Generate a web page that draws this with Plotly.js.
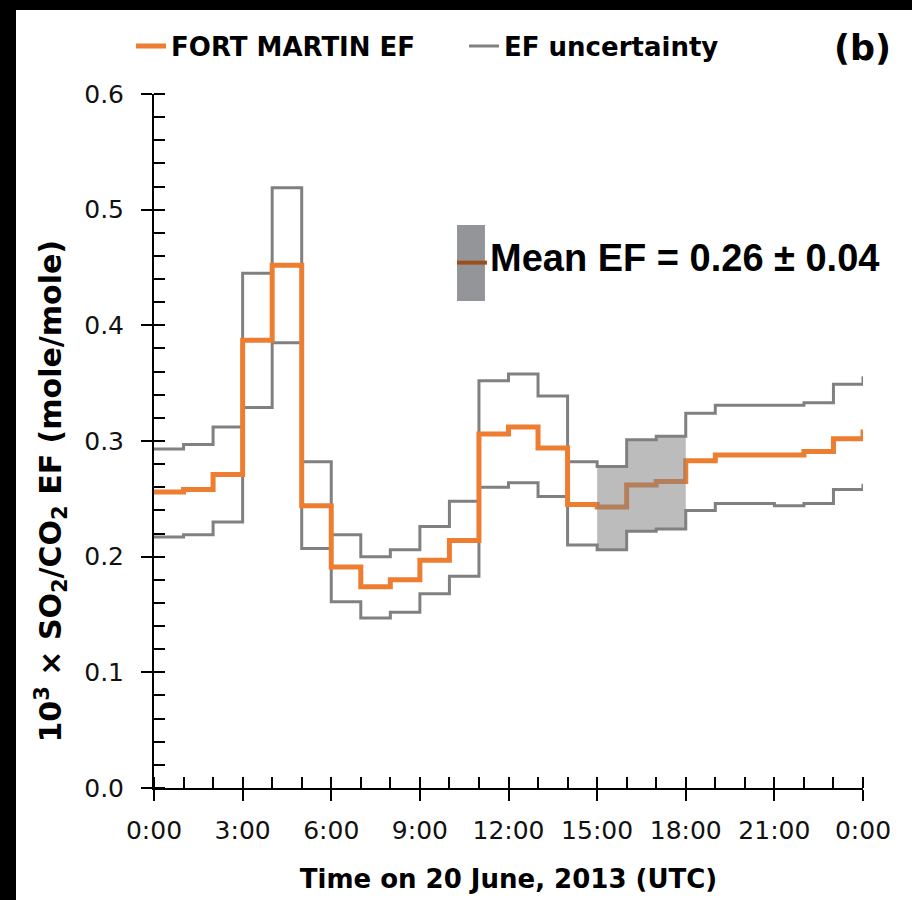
<!DOCTYPE html>
<html>
<head>
<meta charset="utf-8">
<script src="https://cdn.plot.ly/plotly-3.0.1.min.js"></script>
<style>
  html, body { margin: 0; padding: 0; background: #000; width: 912px; height: 900px; overflow: hidden; }
  #chart { position: absolute; left: 16px; top: 10px; width: 896px; height: 890px; background: #fff; }
</style>
</head>
<body>
<div id="chart"></div>
<script>
// Hour of day (UTC), 20 June 2013; last point = 24:00
const hours = [0,1,2,3,4,5,6,7,8,9,10,11,12,13,14,15,16,17,18,19,20,21,22,23,24];
const tickHours = [0,3,6,9,12,15,18,21,24];
const tickLabels = ["0:00","3:00","6:00","9:00","12:00","15:00","18:00","21:00","0:00"];

// FORT MARTIN SO2/CO2 emission factor (x 10^3, mole/mole)
const efValues = [0.256,0.258,0.271,0.387,0.452,0.244,0.191,0.174,0.180,0.197,0.214,0.306,
                  0.312,0.294,0.245,0.243,0.262,0.265,0.283,0.288,0.288,0.288,0.291,0.302,0.310];
// Uncertainty envelope
const efUpper = [0.293,0.297,0.312,0.445,0.519,0.282,0.219,0.200,0.206,0.226,0.248,0.352,
                 0.358,0.339,0.282,0.278,0.301,0.304,0.324,0.331,0.331,0.331,0.333,0.349,0.356];
const efLower = [0.217,0.219,0.230,0.329,0.385,0.207,0.161,0.147,0.152,0.168,0.183,0.260,
                 0.264,0.252,0.210,0.206,0.222,0.224,0.240,0.246,0.246,0.244,0.246,0.258,0.263];

// Shaded period used for the mean EF
const shadeStart = 15, shadeEnd = 18;
const meanEF = 0.26, meanEFUnc = 0.04;

const ORANGE = "#ED7D31", GRAY = "#808080";

const shadeX = hours.slice(shadeStart, shadeEnd + 1);
const shadeLo = efLower.slice(shadeStart, shadeEnd).concat([efLower[shadeEnd - 1]]);
const shadeHi = efUpper.slice(shadeStart, shadeEnd).concat([efUpper[shadeEnd - 1]]);

const traces = [
  { x: hours, y: efUpper, type: "scatter", mode: "lines", line: {shape: "hv", color: GRAY, width: 3},
    name: "EF uncertainty", legendrank: 2, showlegend: true, hoverinfo: "skip" },
  { x: hours, y: efLower, type: "scatter", mode: "lines", line: {shape: "hv", color: GRAY, width: 3},
    name: "EF uncertainty (lower)", showlegend: false, hoverinfo: "skip" },
  { x: hours, y: efValues, type: "scatter", mode: "lines", line: {shape: "hv", color: ORANGE, width: 5},
    name: "FORT MARTIN EF", legendrank: 1, showlegend: true },
  { x: shadeX, y: shadeLo, type: "scatter", mode: "lines", line: {shape: "hv", color: "rgba(0,0,0,0)", width: 0},
    showlegend: false, hoverinfo: "skip" },
  { x: shadeX, y: shadeHi, type: "scatter", mode: "lines", line: {shape: "hv", color: "rgba(0,0,0,0)", width: 0},
    fill: "tonexty", fillcolor: "rgba(128,128,128,0.53)", showlegend: false, hoverinfo: "skip" }
];

const tickFont = {family: "DejaVu Sans", size: 25, color: "#111"};
const boldFont = (s) => ({family: "DejaVu Sans", size: s, color: "#000", weight: "bold"});

const layout = {
  width: 896, height: 890,
  margin: {l: 138, r: 49, t: 84, b: 112},
  paper_bgcolor: "#fff", plot_bgcolor: "#fff",
  showlegend: true,
  legend: {orientation: "h", x: -0.0324, xanchor: "left", y: 1.069, yanchor: "middle",
           font: boldFont(26), bgcolor: "rgba(0,0,0,0)", itemwidth: 30, traceorder: "normal",
           entrywidth: 288, entrywidthmode: "pixels"},
  xaxis: {range: [0, 24], showgrid: false, zeroline: false, showline: true, linecolor: "#000", linewidth: 2,
          ticks: "outside", ticklen: 11, tickwidth: 2, tickcolor: "#000",
          tickvals: tickHours, ticktext: tickLabels, tickfont: tickFont, ticklabelstandoff: 8,
          minor: {ticks: "inside", dtick: 1, tick0: 0, ticklen: 11, tickwidth: 2, tickcolor: "#000", showgrid: false},
          title: {text: "Time on 20 June, 2013 (UTC)", font: boldFont(26), standoff: 26}},
  xaxis2: {overlaying: "x", anchor: "y", range: [0, 24], showgrid: false, zeroline: false, showline: false,
           ticks: "inside", ticklen: 11, tickwidth: 2, tickcolor: "#000", tickvals: tickHours, showticklabels: false},
  yaxis: {range: [0, 0.6], showgrid: false, zeroline: false, showline: true, linecolor: "#000", linewidth: 2,
          ticks: "outside", ticklen: 11, tickwidth: 2, tickcolor: "#000", dtick: 0.1, tick0: 0,
          tickformat: ".1f", tickfont: tickFont, ticklabelstandoff: 12,
          minor: {ticks: "inside", dtick: 0.02, tick0: 0, ticklen: 11, tickwidth: 2, tickcolor: "#000", showgrid: false}},
  yaxis2: {overlaying: "y", anchor: "x", range: [0, 0.6], showgrid: false, zeroline: false, showline: false,
           ticks: "inside", ticklen: 11, tickwidth: 2, tickcolor: "#000", dtick: 0.1, tick0: 0, showticklabels: false},
  annotations: [
    {text: "10<sup>3</sup> × SO<sub>2</sub>/CO<sub>2</sub> EF (mole/mole)", textangle: -90,
     xref: "paper", yref: "paper", x: -0.1445, y: 0.428, xanchor: "center", yanchor: "middle",
     showarrow: false, font: boldFont(30)},
    {text: "(b)", xref: "paper", yref: "paper", x: 0.9986, y: 1.067, xanchor: "center", yanchor: "middle",
     showarrow: false, font: boldFont(35)},
    {text: "Mean EF = " + meanEF.toFixed(2) + " ± " + meanEFUnc.toFixed(2), xref: "paper", yref: "paper",
     x: 0.4705, y: 0.764, xanchor: "left", yanchor: "middle", showarrow: false,
     font: {family: "Liberation Sans", size: 38, color: "#000", weight: "bold"}}
  ],
  shapes: [
    {type: "rect", xref: "paper", yref: "paper", x0: 0.4274, x1: 0.4668, y0: 0.7017, y1: 0.8112,
     fillcolor: "#939598", line: {width: 0}},
    {type: "line", xref: "paper", yref: "paper", x0: 0.4274, x1: 0.4696, y0: 0.757, y1: 0.757,
     line: {color: "#9C4F1C", width: 4}}
  ]
};

Plotly.newPlot("chart", traces, layout, {staticPlot: true, displayModeBar: false});
</script>
</body>
</html>
